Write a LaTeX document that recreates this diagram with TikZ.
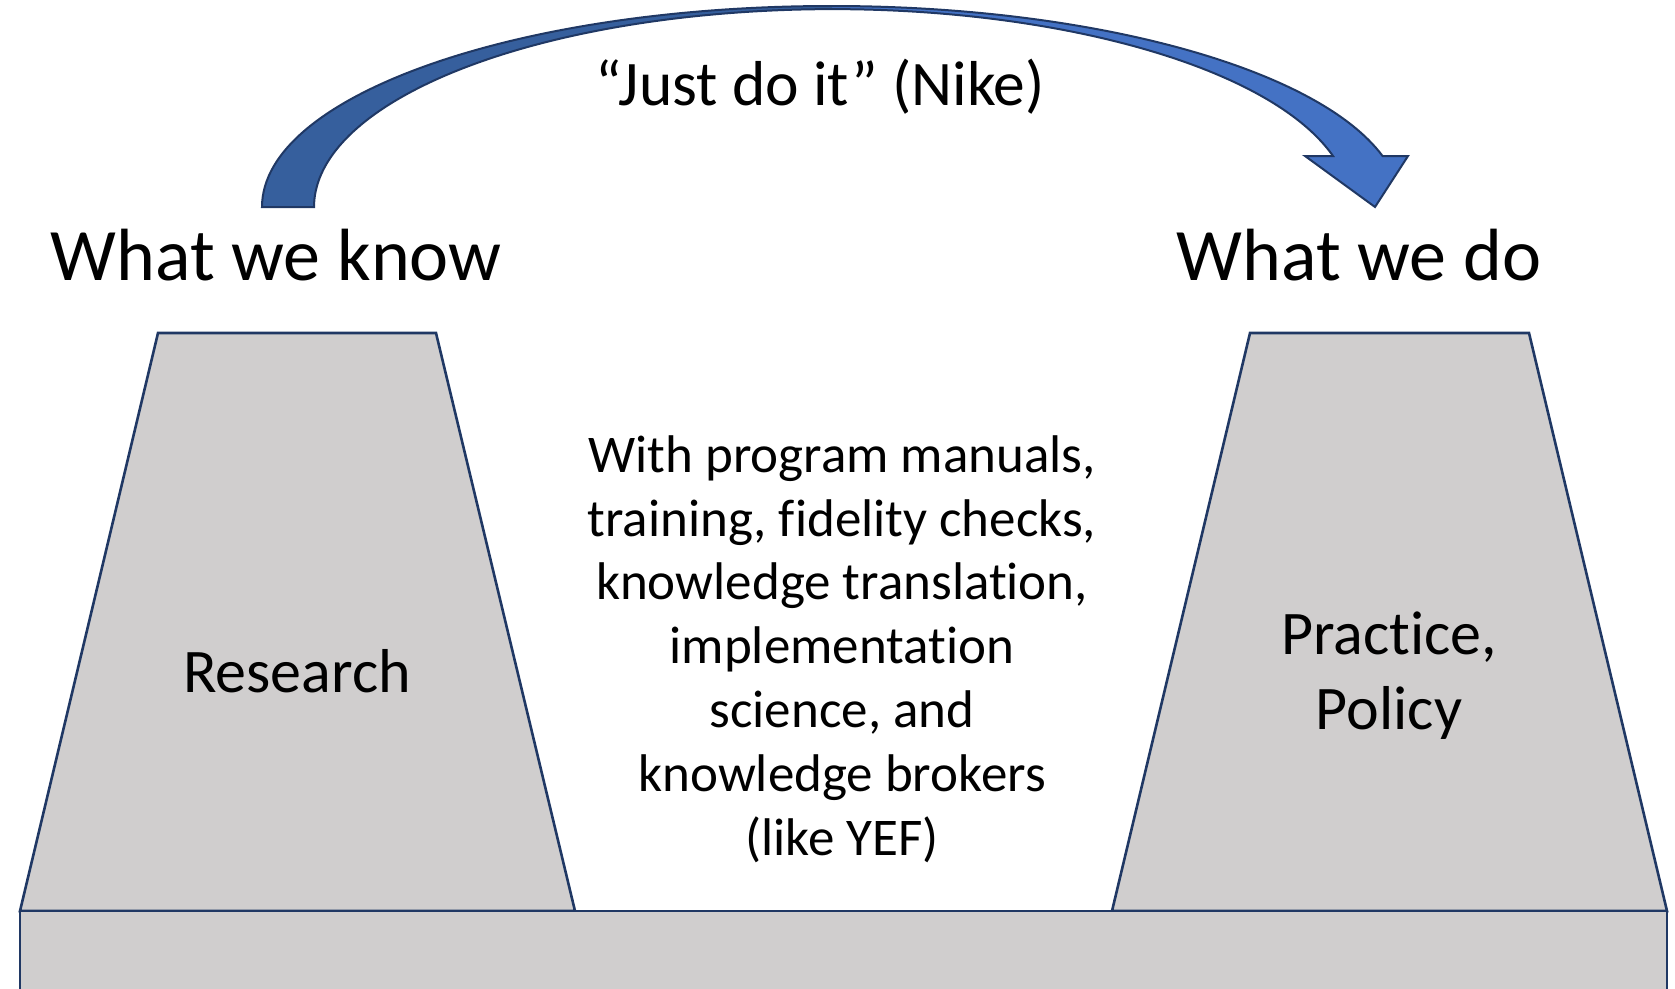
\documentclass[tikz,border=0pt]{standalone}
\usepackage{fontspec}
\setmainfont{Carlito}[Ligatures=NoCommon]
\definecolor{blockfill}{HTML}{D0CECE}
\definecolor{navyline}{HTML}{203864}
\definecolor{arrowlight}{HTML}{4472C4}
\definecolor{arrowdark}{HTML}{365F9D}
\begin{document}
\begin{tikzpicture}[x=1pt,y=-1pt,
  block/.style={fill=blockfill,draw=navyline,line width=2.6pt,line join=miter},
  arrowline/.style={draw=navyline,line width=2pt,line join=miter},
  bigtext/.style={font=\fontsize{74}{89}\selectfont,inner sep=0pt},
  midtext/.style={font=\fontsize{62}{75}\selectfont,inner sep=0pt,align=center},
  smalltext/.style={font=\fontsize{53}{63.8}\selectfont,inner sep=0pt,align=center}]
\useasboundingbox (0,0) rectangle (1675,988);
\clip (0,0) rectangle (1675,988);

% left pillar
\coordinate (lbl) at (20,911);
\coordinate (ltl) at (158,333);
\coordinate (ltr) at (436,333);
\coordinate (lbr) at (575,911);
\draw[block] (lbl) -- (ltl) -- (ltr) -- (lbr) -- cycle;

% right pillar
\coordinate (rbl) at (1112,911);
\coordinate (rtl) at (1250,333);
\coordinate (rtr) at (1529,333);
\coordinate (rbr) at (1667,911);
\draw[block] (rbl) -- (rtl) -- (rtr) -- (rbr) -- cycle;

% ground slab
\coordinate (gtl) at (20,911);
\coordinate (gbr) at (1667,1010);
\draw[block] (gtl) rectangle (gbr);

% curved block arrow
\def\arrowshape{(262,207) arc[start angle=180,end angle=345.3,x radius=569.6,y radius=201]
  -- (1408,156) -- (1375,207) -- (1305,156) -- (1333,156)
  arc[start angle=345.02,end angle=180,x radius=518.3,y radius=198] -- cycle}
\fill[arrowlight] \arrowshape;
\begin{scope}
  \clip (0,0) rectangle (832,230);
  \fill[arrowdark] \arrowshape;
\end{scope}
\draw[arrowline] \arrowshape;

% labels (base anchor of a multi-line node is its last baseline)
\node[bigtext,anchor=base] (know) at (276,280) {What we know};
\node[bigtext,anchor=base] (do) at (1359,280) {What we do};
\node[font=\fontsize{63.5}{76}\selectfont,inner sep=0pt,anchor=base] (nike) at (820,105) {“Just do it” (Nike)};
\node[midtext,anchor=base] (research) at (297,692) {Research};
\node[midtext,anchor=base] (practice) at (1389,729) {Practice,\\Policy};
\node[smalltext,anchor=base] (means) at (842,855) {With program manuals,\\training, fidelity checks,\\knowledge translation,\\implementation\\science, and\\knowledge brokers\\(like YEF)};
\end{tikzpicture}
\end{document}
